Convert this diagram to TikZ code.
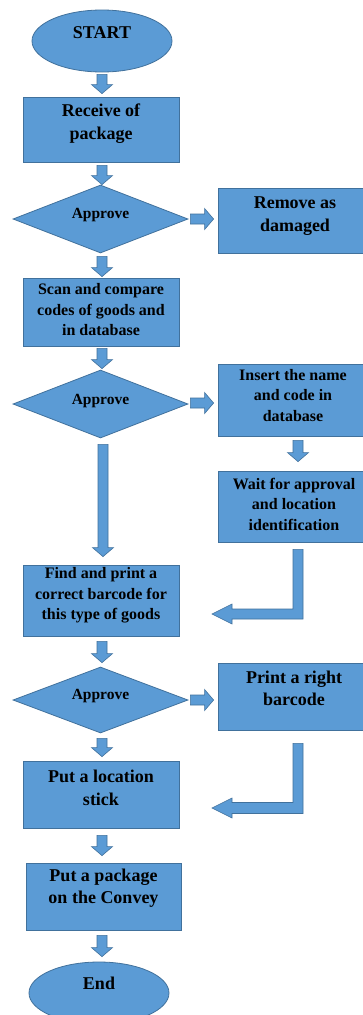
\documentclass[tikz,border=0pt]{standalone}
\usepackage{fontspec}
\setmainfont{Liberation Serif}
\usetikzlibrary{shapes.geometric,calc}
\definecolor{fillc}{HTML}{5B9BD5}
\definecolor{edgec}{HTML}{41719C}
\begin{document}
\begin{tikzpicture}[x=1pt,y=-1pt,
  shape base/.style={draw=edgec, fill=fillc, line width=0.8pt},
  stepbox/.style={shape base, rectangle, inner sep=0pt, minimum width=156pt},
  sidebox/.style={shape base, rectangle, inner sep=0pt, minimum width=160pt},
  term/.style={shape base, ellipse, inner sep=0pt, minimum width=140pt, minimum height=62pt},
  decision/.style={shape base, diamond, inner sep=0pt, minimum width=175pt, minimum height=68pt},
  big/.style={font=\bfseries\fontsize{18}{22.5}\selectfont, align=center, text=black},
  small/.style={font=\bfseries\fontsize{16}{20.5}\selectfont, align=center, text=black},
  dec/.style={font=\bfseries\fontsize{15.5}{18}\selectfont, text=black},
  % block arrow: shaft half-width 5pt, head half-width 10.5pt, head length 9pt
  barrow/.style={shape base, line width=0.6pt, line join=miter,
    to path={let \p1=(\tikztostart), \p2=(\tikztotarget),
             \n1={atan2(\y2-\y1,\x2-\x1)} in
      ($(\p1)+(\n1+90:5pt)$)
      -- ($(\p2)+(\n1+180:9pt)+(\n1+90:5pt)$)
      -- ($(\p2)+(\n1+180:9pt)+(\n1+90:10.5pt)$)
      -- (\p2)
      -- ($(\p2)+(\n1+180:9pt)+(\n1-90:10.5pt)$)
      -- ($(\p2)+(\n1+180:9pt)+(\n1-90:5pt)$)
      -- ($(\p1)+(\n1-90:5pt)$) -- cycle}},
  lbarrow/.style={shape base, line width=0.6pt, line join=miter}
]
\useasboundingbox (0,0) rectangle (363,1015);
\fill[white] (0,0) rectangle (363,1015);
\clip (0,0) rectangle (363,1015);

% main column
\node[term, label={[big,yshift=8pt]center:START}] (start) at (102,41) {};
\node[stepbox, minimum height=65pt,
      label={[big,yshift=6pt]center:Receive of\\package}] (recv) at (101,129.5) {};
\node[decision, label={[dec,yshift=4pt]center:Approve}] (d1) at (100.5,219) {};
\node[stepbox, minimum height=68pt,
      label={[small,yshift=2pt]center:Scan and compare\\codes of goods and\\in database}] (scan) at (101,312) {};
\node[decision, label={[dec,yshift=3pt]center:Approve}] (d2) at (100.5,404) {};
\node[stepbox, minimum height=71pt,
      label={[small,yshift=5pt]center:Find and print a\\correct barcode for\\this type of goods}] (find) at (101,600.5) {};
\node[decision, minimum height=66pt, label={[dec,yshift=4pt]center:Approve}] (d3) at (100.5,700) {};
\node[stepbox, minimum height=67pt,
      label={[big,yshift=6.5pt]center:Put a location\\stick}] (loc) at (101,794.5) {};
\node[stepbox, minimum width=155pt, minimum height=67pt,
      label={[big,yshift=8.5pt]center:Put a package\\on the Convey}] (pkg) at (103.5,896.5) {};
\node[term, label={[big,yshift=10pt]center:End}] (end) at (99,993) {};

% side column
\node[sidebox, minimum height=65pt,
      label={[big,yshift=4.5pt,xshift=-3pt]center:Remove as\\damaged}] (rem) at (298,220.5) {};
\node[sidebox, minimum height=72pt,
      label={[small,yshift=4.5pt,xshift=-5pt]center:Insert the name\\and code in\\database}] (ins) at (298,400) {};
\node[sidebox, minimum height=71pt,
      label={[small,yshift=2.5pt,xshift=-4pt]center:Wait for approval\\and location\\identification}] (wait) at (298,506.5) {};
\node[sidebox, minimum height=67pt,
      label={[big,yshift=8pt,xshift=-4pt]center:Print a right\\barcode}] (print) at (298,696.5) {};

% free ends of the two return arrows
\coordinate (ret1) at (212,614);
\coordinate (ret2) at (212,808);

% straight block arrows
\draw[barrow] ($(start.south)+(0,2)$) to ($(start.south |- recv.north)+(0,-3)$);
\draw[barrow] ($(recv.south)+(1,3)$) to ($(recv.south |- d1.north)+(1,0)$);
\draw[barrow] ($(d1.south)+(1.5,3)$) to ($(d1.south |- scan.north)+(1.5,-1)$);
\draw[barrow] ($(scan.south)+(1,2)$) to ($(scan.south |- d2.north)+(1,-1)$);
\draw[barrow] ($(d2.south)+(2.5,6)$) to ($(d2.south |- find.north)+(2.5,-8)$);
\draw[barrow] ($(find.south)+(1,5)$) to ($(find.south |- d3.north)+(1,-4)$);
\draw[barrow] ($(d3.south)+(1.5,5)$) to ($(d3.south |- loc.north)+(1.5,-4)$);
\draw[barrow] ($(loc.south)+(1,7)$) to ($(loc.south |- pkg.north)+(1,-7)$);
\draw[barrow] ($(pkg.south)+(-1.5,5)$) to ($(pkg.south |- end.north)+(-1.5,-5)$);

\draw[barrow] ($(d1.east)+(2,0)$) to ($(d1.east -| rem.west)+(-4,0)$);
\draw[barrow] ($(d2.east)+(2,-1)$) to ($(d2.east -| ins.west)+(-4,-1)$);
\draw[barrow] ($(d3.east)+(2,0)$) to ($(d3.east -| print.west)+(-4,0)$);
\draw[barrow] ($(ins.south)+(0,4)$) to ($(ins.south |- wait.north)+(0,-9)$);

% bent return arrows
\draw[lbarrow] let \p1=($(wait.south)+(0,7)$), \p2=(ret1) in
  (\x1-5pt,\y1) -- (\x1+5pt,\y1) -- (\x1+5pt,\y2-5pt) -- (\x2+20pt,\y2-5pt)
  -- (\x2+20pt,\y2-10pt) -- (\p2) -- (\x2+20pt,\y2+10pt) -- (\x2+20pt,\y2+5pt)
  -- (\x1-5pt,\y2+5pt) -- cycle;
\draw[lbarrow] let \p1=($(print.south)+(0,13)$), \p2=(ret2) in
  (\x1-5pt,\y1) -- (\x1+5pt,\y1) -- (\x1+5pt,\y2-5.5pt) -- (\x2+20pt,\y2-5.5pt)
  -- (\x2+20pt,\y2-10pt) -- (\p2) -- (\x2+20pt,\y2+10pt) -- (\x2+20pt,\y2+5.5pt)
  -- (\x1-5pt,\y2+5.5pt) -- cycle;
\end{tikzpicture}
\end{document}
